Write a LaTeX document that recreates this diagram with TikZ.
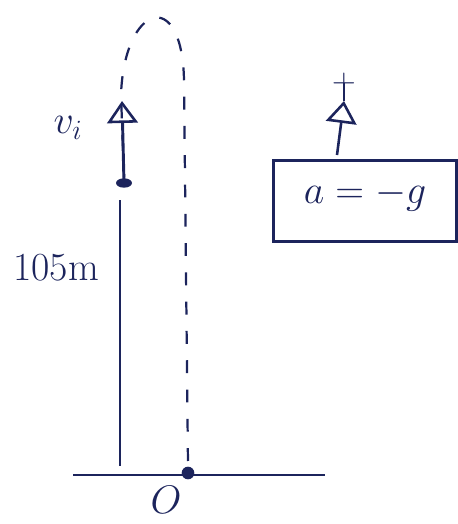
\RequirePackage{fix-cm}
\documentclass[tikz,border=0pt]{standalone}
\usetikzlibrary{positioning, arrows.meta, calc, shapes.geometric}
\definecolor{ink}{RGB}{28,36,92}

\begin{document}
\begin{tikzpicture}[x=0.03cm, y=-0.03cm, ink, line width=2.5pt,
  font=\fontsize{34}{40}\selectfont,
  >={Triangle[open, length=0.66cm, width=0.92cm, line width=2.2pt]},
  dot/.style={fill=ink, draw=none, inner sep=0pt},
  traj/.style={dash pattern=on 11pt off 14pt, line width=1.9pt},
  lbl/.style={inner sep=0pt, text=ink}]
  \useasboundingbox (0,0) rectangle (458,524);
  % ball and start velocity
  \node[dot, ellipse, minimum width=0.48cm, minimum height=0.28cm] (ball) at (124,183) {};
  \coordinate (vtip) at (122,101);
  \draw[->] (ball.center) -- (vtip);
  \node[lbl] (vlabel) at (68,128) {$v_i$};
  % height and ground
  \coordinate (htop) at (120,200);
  \coordinate (hbot) at (120,466);
  \draw (htop) -- (hbot);
  \node[lbl] (hlabel) at (56,268) {105m};
  \coordinate (gl) at (73,475);
  \coordinate (gr) at (325,475);
  \draw (gl) -- (gr);
  \node[dot, circle, minimum size=0.38cm] (origin) at (188,473) {};
  \node[lbl] (olabel) at (166,500) {$O$};
  % path of the ball
  \coordinate (peak) at (184,80);
  \draw[traj] (ball.north) -- (121,95) .. controls (124,5) and (182,-15) .. (peak) -- (origin.north);
  % sign convention and acceleration
  \coordinate (sgnbot) at (337,155);
  \coordinate (sgntip) at (344,101);
  \draw[->, line width=2.2pt] (sgnbot) -- (sgntip);
  \node[lbl, font=\fontsize{28}{32}\selectfont] (plus) at (344,83) {$+$};
  \draw[line width=2.2pt] (sgntip) -- (plus.center);
  \node[draw, lbl, line width=2.5pt, minimum width=5.5cm, minimum height=2.45cm, text depth=0.55cm] (accbox) at (365,201) {$a=-g$};
\end{tikzpicture}
\end{document}
